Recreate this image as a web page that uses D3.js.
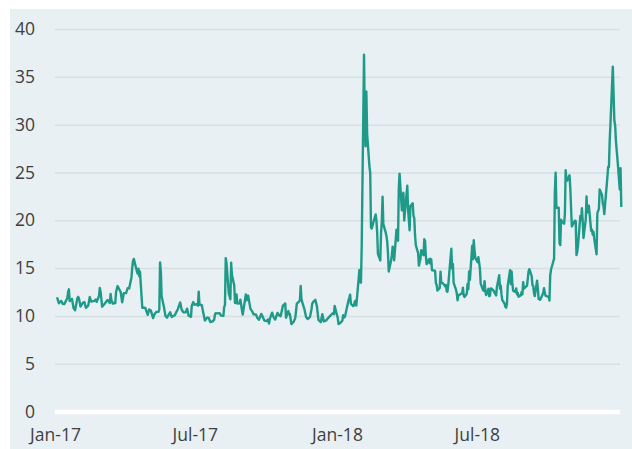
<!DOCTYPE html>
<html lang="en">
<head>
  <meta charset="UTF-8">
  <title>VIX 2017-2018</title>
  <script src="https://d3js.org/d3.v7.min.js"></script>
  <style>
    body { margin: 0; background: #fff; font-family: "Open Sans", Arial, sans-serif; }
    .tick text { fill: #3f3f3f; font-size: 17.5px; font-family: "Open Sans", Arial, sans-serif; }
    .line { fill: none; stroke: #1f9a89; stroke-width: 2.4px; stroke-linejoin: round; }
  </style>
</head>
<body>
  <svg id="chart" width="632" height="449"></svg>
  <script>
    // daily closes (denser around the spikes)
    const dates = [
      "2017-01-03","2017-01-04","2017-01-06","2017-01-09","2017-01-11","2017-01-13","2017-01-17","2017-01-18","2017-01-19","2017-01-20","2017-01-23","2017-01-25","2017-01-27","2017-01-30","2017-01-31",
      "2017-02-01","2017-02-03","2017-02-06","2017-02-08","2017-02-10","2017-02-13","2017-02-15","2017-02-17","2017-02-21","2017-02-23","2017-02-24","2017-02-27","2017-02-28",
      "2017-03-01","2017-03-03","2017-03-06","2017-03-08","2017-03-10","2017-03-13","2017-03-14","2017-03-15","2017-03-17","2017-03-20","2017-03-21","2017-03-22","2017-03-23","2017-03-24","2017-03-27","2017-03-29","2017-03-31",
      "2017-04-03","2017-04-05","2017-04-07","2017-04-10","2017-04-11","2017-04-12","2017-04-13","2017-04-17","2017-04-18","2017-04-19","2017-04-20","2017-04-21","2017-04-24","2017-04-26","2017-04-28",
      "2017-05-01","2017-05-03","2017-05-05","2017-05-08","2017-05-10","2017-05-12","2017-05-15","2017-05-16","2017-05-17","2017-05-18","2017-05-19","2017-05-22","2017-05-24","2017-05-26","2017-05-30",
      "2017-06-01","2017-06-05","2017-06-07","2017-06-09","2017-06-12","2017-06-14","2017-06-16","2017-06-19","2017-06-21","2017-06-23","2017-06-26","2017-06-27","2017-06-29","2017-06-30",
      "2017-07-03","2017-07-05","2017-07-06","2017-07-07","2017-07-10","2017-07-12","2017-07-14","2017-07-17","2017-07-19","2017-07-21","2017-07-24","2017-07-26","2017-07-27","2017-07-28","2017-07-31",
      "2017-08-02","2017-08-04","2017-08-07","2017-08-08","2017-08-09","2017-08-10","2017-08-11","2017-08-14","2017-08-15","2017-08-16","2017-08-17","2017-08-18","2017-08-21","2017-08-22","2017-08-24","2017-08-25","2017-08-28","2017-08-29","2017-08-31",
      "2017-09-01","2017-09-05","2017-09-06","2017-09-08","2017-09-11","2017-09-13","2017-09-15","2017-09-18","2017-09-20","2017-09-22","2017-09-25","2017-09-27","2017-09-29",
      "2017-10-02","2017-10-04","2017-10-05","2017-10-06","2017-10-09","2017-10-11","2017-10-13","2017-10-16","2017-10-18","2017-10-20","2017-10-23","2017-10-25","2017-10-26","2017-10-27","2017-10-30","2017-10-31",
      "2017-11-01","2017-11-03","2017-11-06","2017-11-08","2017-11-09","2017-11-10","2017-11-13","2017-11-14","2017-11-15","2017-11-16","2017-11-17","2017-11-20","2017-11-22","2017-11-24","2017-11-27","2017-11-29","2017-11-30",
      "2017-12-01","2017-12-04","2017-12-05","2017-12-06","2017-12-08","2017-12-11","2017-12-13","2017-12-15","2017-12-18","2017-12-20","2017-12-22","2017-12-26","2017-12-28","2017-12-29",
      "2018-01-02","2018-01-03","2018-01-04","2018-01-05","2018-01-08","2018-01-09","2018-01-10","2018-01-11","2018-01-12","2018-01-16","2018-01-17","2018-01-18","2018-01-19","2018-01-22","2018-01-23","2018-01-24","2018-01-25","2018-01-26","2018-01-29","2018-01-30","2018-01-31",
      "2018-02-01","2018-02-02","2018-02-05","2018-02-06","2018-02-07","2018-02-08","2018-02-09","2018-02-12","2018-02-13","2018-02-14","2018-02-15","2018-02-16","2018-02-20","2018-02-21","2018-02-22","2018-02-23","2018-02-26","2018-02-27","2018-02-28",
      "2018-03-01","2018-03-02","2018-03-05","2018-03-06","2018-03-07","2018-03-08","2018-03-09","2018-03-12","2018-03-13","2018-03-14","2018-03-15","2018-03-16","2018-03-19","2018-03-20","2018-03-21","2018-03-22","2018-03-23","2018-03-26","2018-03-27","2018-03-28","2018-03-29",
      "2018-04-02","2018-04-03","2018-04-04","2018-04-05","2018-04-06","2018-04-09","2018-04-10","2018-04-11","2018-04-12","2018-04-13","2018-04-16","2018-04-17","2018-04-18","2018-04-19","2018-04-20","2018-04-23","2018-04-24","2018-04-25","2018-04-26","2018-04-27","2018-04-30",
      "2018-05-01","2018-05-02","2018-05-03","2018-05-04","2018-05-07","2018-05-08","2018-05-09","2018-05-10","2018-05-11","2018-05-14","2018-05-15","2018-05-16","2018-05-17","2018-05-18","2018-05-21","2018-05-22","2018-05-23","2018-05-24","2018-05-25","2018-05-29","2018-05-30","2018-05-31",
      "2018-06-01","2018-06-04","2018-06-05","2018-06-06","2018-06-07","2018-06-08","2018-06-11","2018-06-12","2018-06-13","2018-06-14","2018-06-15","2018-06-18","2018-06-19","2018-06-20","2018-06-21","2018-06-22","2018-06-25","2018-06-26","2018-06-27","2018-06-28","2018-06-29",
      "2018-07-02","2018-07-03","2018-07-05","2018-07-06","2018-07-09","2018-07-10","2018-07-11","2018-07-12","2018-07-13","2018-07-16","2018-07-17","2018-07-18","2018-07-19","2018-07-20","2018-07-23","2018-07-24","2018-07-25","2018-07-26","2018-07-27","2018-07-30","2018-07-31",
      "2018-08-01","2018-08-02","2018-08-03","2018-08-06","2018-08-07","2018-08-08","2018-08-09","2018-08-10","2018-08-13","2018-08-14","2018-08-15","2018-08-16","2018-08-17","2018-08-20","2018-08-21","2018-08-22","2018-08-23","2018-08-24","2018-08-27","2018-08-28","2018-08-29","2018-08-30","2018-08-31",
      "2018-09-04","2018-09-05","2018-09-06","2018-09-07","2018-09-10","2018-09-11","2018-09-12","2018-09-13","2018-09-14","2018-09-17","2018-09-18","2018-09-19","2018-09-20","2018-09-21","2018-09-24","2018-09-25","2018-09-26","2018-09-27","2018-09-28",
      "2018-10-01","2018-10-02","2018-10-03","2018-10-04","2018-10-05","2018-10-08","2018-10-09","2018-10-10","2018-10-11","2018-10-12","2018-10-15","2018-10-16","2018-10-17","2018-10-18","2018-10-19","2018-10-22","2018-10-23","2018-10-24","2018-10-25","2018-10-26","2018-10-29","2018-10-30","2018-10-31",
      "2018-11-01","2018-11-02","2018-11-05","2018-11-06","2018-11-07","2018-11-08","2018-11-09","2018-11-12","2018-11-13","2018-11-14","2018-11-15","2018-11-16","2018-11-19","2018-11-20","2018-11-21","2018-11-23","2018-11-26","2018-11-27","2018-11-28","2018-11-29","2018-11-30",
      "2018-12-03","2018-12-04","2018-12-06","2018-12-07","2018-12-10","2018-12-11","2018-12-12","2018-12-13","2018-12-14","2018-12-17","2018-12-18","2018-12-19","2018-12-20","2018-12-21","2018-12-24","2018-12-26","2018-12-27","2018-12-28","2018-12-31",
      "2019-01-02","2019-01-03","2019-01-04"
    ];
    const values = [
      11.8,11.85,11.32,11.56,11.26,11.23,11.87,12.48,12.78,11.54,11.77,10.81,10.58,11.88,11.99,
      11.81,10.97,11.37,11.45,10.85,11.07,11.97,11.49,11.57,11.71,11.47,12.09,12.92,
      12.54,10.96,11.24,11.45,11.66,11.35,12.30,11.63,11.28,11.34,12.47,12.81,13.12,12.96,12.50,11.42,12.37,
      12.38,12.89,12.87,14.05,15.07,15.77,15.96,14.66,14.42,14.93,14.15,14.63,10.84,10.85,10.82,
      10.11,10.68,10.57,9.77,10.21,10.40,10.42,10.65,15.59,14.66,12.04,10.93,9.99,9.81,10.38,
      9.89,10.07,10.39,10.70,11.40,10.64,10.38,10.37,10.75,10.02,9.90,11.06,11.44,11.18,
      11.22,11.07,12.54,11.19,11.11,10.30,9.51,9.82,9.79,9.36,9.43,9.60,10.11,10.29,10.26,
      10.28,10.03,10.00,10.96,11.11,16.04,15.51,12.33,12.04,11.74,15.55,14.26,13.19,11.35,12.25,11.28,11.32,11.70,10.59,
      10.13,12.23,11.63,12.12,10.73,10.50,10.17,10.15,9.78,9.59,10.21,9.87,9.51,
      9.45,9.63,9.19,9.65,10.33,9.85,9.61,10.31,10.07,9.97,11.07,11.23,11.30,9.80,10.50,10.18,
      10.20,9.14,9.40,9.78,10.50,11.29,11.50,11.59,13.13,11.76,11.43,10.65,9.88,9.67,9.87,10.70,11.28,
      11.43,11.68,11.33,11.02,9.58,9.34,10.18,9.42,9.53,9.72,9.90,10.25,10.18,11.04,
      9.77,9.15,9.22,9.22,9.52,10.08,9.82,9.88,10.16,11.66,11.91,12.22,11.27,11.03,11.10,11.47,11.58,11.08,13.84,14.79,13.54,
      13.47,17.31,37.32,29.98,27.73,33.46,29.06,25.61,24.97,19.26,19.13,19.46,20.60,20.02,18.72,16.49,15.80,18.59,19.85,
      22.47,19.59,18.73,18.36,17.76,16.54,14.64,15.78,16.35,17.23,16.59,15.80,19.02,18.20,17.86,23.34,24.87,21.03,22.50,22.87,19.97,
      23.62,21.10,20.06,18.94,21.49,21.77,20.47,20.24,18.49,17.41,16.56,15.25,15.60,15.96,16.88,16.34,18.02,17.84,16.24,15.41,15.93,
      15.49,15.97,15.90,14.77,14.75,14.71,13.42,13.23,12.65,12.93,14.63,13.42,13.43,13.42,13.08,13.22,12.58,12.53,13.22,17.02,14.94,15.43,
      13.46,12.74,12.40,11.64,12.13,12.18,12.35,12.34,12.94,12.12,11.98,12.31,13.35,12.79,14.64,13.77,17.33,15.92,17.91,16.85,16.09,
      15.60,16.14,14.97,13.37,12.69,12.64,13.63,12.58,12.18,12.83,12.06,12.10,12.87,12.86,12.62,12.41,12.29,12.14,13.03,14.26,12.83,
      13.15,12.19,11.64,11.27,10.93,10.85,11.27,13.16,14.78,13.31,14.64,13.45,12.64,12.49,12.86,12.25,12.41,11.99,12.16,12.50,12.25,13.53,12.86,
      13.16,13.91,14.65,14.88,14.16,13.22,13.14,12.37,12.07,13.68,12.79,11.75,11.80,11.68,12.20,12.42,12.89,12.41,12.12,
      12.00,12.05,11.61,14.22,14.82,15.69,15.95,22.96,24.98,21.31,21.30,17.62,17.40,20.06,19.89,19.64,20.71,25.23,24.22,24.16,24.70,23.35,21.23,
      19.34,19.51,19.96,19.91,16.36,16.72,17.36,20.45,20.02,21.25,19.98,18.14,20.10,22.48,20.80,21.52,18.90,19.02,18.49,18.79,18.07,
      16.44,20.74,21.19,23.23,22.64,21.76,21.46,20.65,21.63,24.52,25.58,25.58,28.38,30.11,36.07,30.41,29.96,28.34,25.42,
      23.22,25.45,21.38
    ];
    const yTicks = [0, 5, 10, 15, 20, 25, 30, 35, 40];
    const xTickDates = ["2017-01-01", "2017-07-01", "2018-01-01", "2018-07-01"];
    const xTickLabels = ["Jan-17", "Jul-17", "Jan-18", "Jul-18"];

    const parse = d3.timeParse("%Y-%m-%d");
    const data = dates.map((d, i) => ({ date: parse(d), value: values[i] }));

    const svg = d3.select("#chart");

    // plot panel background
    svg.append("rect")
      .attr("x", 10).attr("y", 9)
      .attr("width", 622).attr("height", 440)
      .attr("fill", "#e8f0f3");

    const x = d3.scaleTime()
      .domain([parse("2017-01-01"), parse("2019-01-04")])
      .range([55, 621.3]);

    const y = d3.scaleLinear()
      .domain([0, 40])
      .range([411.5, 29]);

    // gridlines + y labels
    const yAxis = svg.append("g")
      .attr("transform", "translate(55,0)")
      .call(d3.axisLeft(y).tickValues(yTicks).tickSize(-565).tickPadding(20));
    yAxis.select(".domain").remove();
    yAxis.selectAll(".tick line")
      .attr("stroke", d => d === 0 ? "#ffffff" : "#d6dfe2")
      .attr("stroke-width", d => d === 0 ? 4.5 : 1.5);

    // x labels
    const xAxis = svg.append("g")
      .attr("transform", "translate(0,411.5)")
      .call(d3.axisBottom(x)
        .tickValues(xTickDates.map(parse))
        .tickFormat((d, i) => xTickLabels[i])
        .tickSize(0)
        .tickPadding(17));
    xAxis.select(".domain").remove();
    xAxis.selectAll(".tick text").attr("dy", "0.71em");

    const line = d3.line()
      .x(d => x(d.date))
      .y(d => y(d.value));

    svg.append("path")
      .datum(data)
      .attr("class", "line")
      .attr("d", line);
  </script>
</body>
</html>
